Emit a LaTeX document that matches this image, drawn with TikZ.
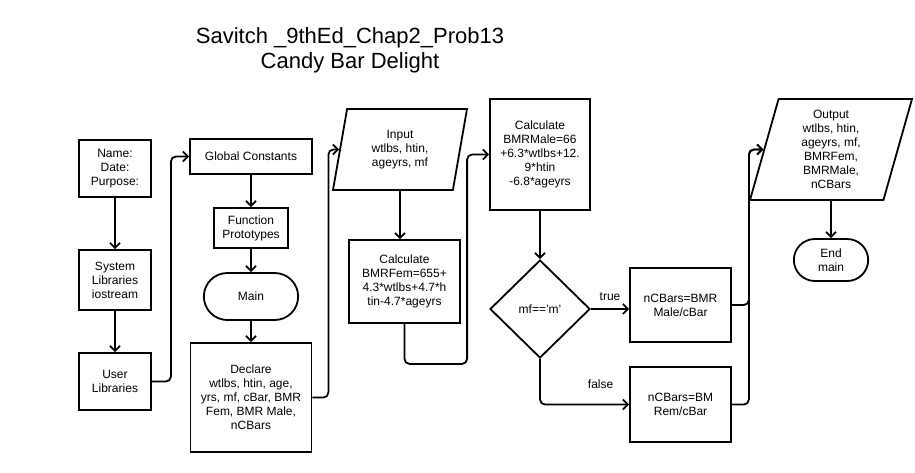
\documentclass[tikz,border=0pt]{standalone}
\usepackage{fontspec}
\setmainfont{Liberation Sans}
\usepackage{tikz}
\usetikzlibrary{shapes,arrows,arrows.meta}
\tikzstyle{block} = [draw, rectangle, line width=1.8pt, align=center, inner sep=2pt]
\tikzstyle{term} = [draw, rounded rectangle, line width=1.8pt, align=center]
\tikzstyle{io} = [draw, trapezium, trapezium left angle=70, trapezium right angle=110,
    trapezium stretches body, line width=1.8pt, align=center, inner sep=0pt]
\tikzstyle{decision} = [draw, diamond, line width=1.8pt, align=center, inner sep=0pt]
\tikzstyle{line} = [draw, line width=1.8pt, rounded corners=5pt]
\tikzstyle{label} = [inner sep=1pt]

\begin{document}
\begin{tikzpicture}[x=1pt, y=-1pt, >={Straight Barb[length=5pt,width=10pt]},
    font=\fontsize{12}{14}\selectfont]
    \fill[white] (0,0) rectangle (915,472);
    \useasboundingbox (0,0) rectangle (915,472);
    % Title
    \node [align=center, font=\fontsize{22}{25}\selectfont] (title) at (350,50)
        {Savitch \_9thEd\_Chap2\_Prob13\\Candy Bar Delight};
    % First column: header and libraries
    \node [block, minimum width=72pt, minimum height=57pt] (name) at (115,168.5) {Name:\\Date:\\Purpose:};
    \node [block, below of=name, node distance=111.5pt, minimum width=72pt, minimum height=60pt] (syslib) {System\\Libraries\\iostream};
    \node [block, below of=syslib, node distance=101.5pt, minimum width=72pt, minimum height=57pt] (userlib) {User\\Libraries};
    % Second column
    \node [block, minimum width=122pt, minimum height=35pt] (global) at (251,156.5) {Global Constants};
    \node [block, below of=global, node distance=71.5pt, minimum width=74pt, minimum height=40pt] (proto) {Function\\Prototypes};
    \node [term, below of=proto, node distance=68.5pt, minimum width=101pt, minimum height=47pt] (main) {Main};
    \node [block, below of=main, node distance=101pt, minimum width=121pt, minimum height=109pt] (declare)
        {Declare\\wtlbs, htin, age,\\yrs, mf, cBar, BMR\\Fem, BMR Male,\\nCBars};
    % Input and female formula
    \node [io, minimum width=134pt, minimum height=81pt] (input) at (400,149.5) {Input\\wtlbs, htin,\\ageyrs, mf};
    \node [block, below of=input, node distance=132pt, xshift=4.5pt, minimum width=111pt, minimum height=83pt] (calcfem)
        {Calculate\\BMRFem=655+\\4.3*wtlbs+4.7*h\\tin-4.7*ageyrs};
    % Male formula and choice
    \node [block, minimum width=100pt, minimum height=111pt] (calcmale) at (540,154.5)
        {Calculate\\BMRMale=66\\+6.3*wtlbs+12.\\9*htin\\-6.8*ageyrs};
    \node [decision, below of=calcmale, node distance=154.5pt, minimum width=100pt, minimum height=98pt] (dec) {mf=='m'};
    \node [block, minimum width=101pt, minimum height=74pt] (male) at (680.5,305) {nCBars=BMR\\Male/cBar};
    \node [block, below of=male, node distance=99.5pt, minimum width=101pt, minimum height=75pt] (fem) {nCBars=BM\\Rem/cBar};
    % Output and end
    \node [io, minimum width=162pt, minimum height=101pt] (output) at (831,149.5)
        {Output\\wtlbs, htin,\\ageyrs, mf,\\BMRFem,\\BMRMale,\\nCBars};
    \node [term, below of=output, node distance=110.5pt, minimum width=81pt, minimum height=42pt] (endmain) {End\\main};
    % Connectors
    \draw [line, ->] (name) -- (syslib);
    \draw [line, ->] (syslib) -- (userlib);
    \draw [line, ->] (userlib.east) -- ++(19,0) |- (global.west);
    \draw [line, ->] (global) -- (proto);
    \draw [line, ->] (proto) -- (main);
    \draw [line, ->] (main) -- (declare);
    \draw [line, ->] (declare.east) -- ++(16,0) |- (input.left side);
    \draw [line, ->] (input.south) -- (input.south |- calcfem.north);
    \draw [line, ->] (calcfem.south) -- ++(0,40) -| ([xshift=-22pt]calcmale.west) -- (calcmale.west);
    \draw [line, ->] (calcmale) -- (dec);
    \draw [line, ->] (dec.east) -- node[label, above, yshift=6pt] {true} (dec.east -| male.west);
    \draw [line, ->] (dec.south) |- node[label, above, pos=0.84, yshift=14pt] {false} (fem.west);
    \draw [line, ->] (male.east) -- ++(17,0) |- (output.left side);
    \draw [line, ->] (fem.east) -- ++(17,0) |- (output.left side);
    \draw [line, ->] (output.south) -- (output.south |- endmain.north);
\end{tikzpicture}
\end{document}
